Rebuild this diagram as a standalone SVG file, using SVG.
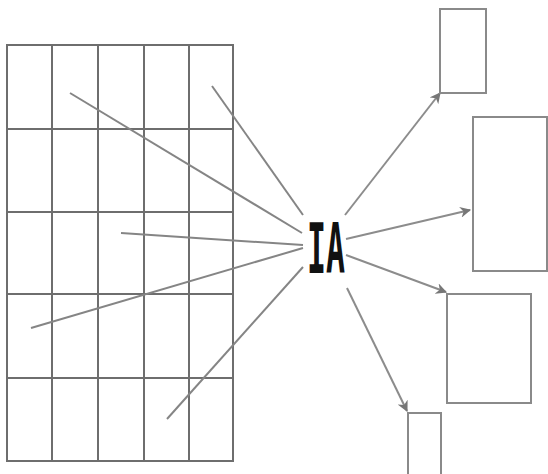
<svg xmlns="http://www.w3.org/2000/svg" width="548" height="474" viewBox="0 0 548 474">
<style>
.grid{fill:none;stroke:#6e6e6e;stroke-width:2}
.box{fill:#fff;stroke:#8a8a8a;stroke-width:2}
.in{stroke:#858585;stroke-width:2;fill:none}
.out{stroke:#8c8c8c;stroke-width:2;fill:none;marker-end:url(#ah)}
.lbl{font-family:"DejaVu Sans Mono","Liberation Mono",monospace;font-size:70px;font-weight:bold;fill:#111}
</style>
<defs>
<marker id="ah" viewBox="0 0 10 10" refX="9" refY="5" markerWidth="5.5" markerHeight="5.5" orient="auto" markerUnits="strokeWidth">
<path d="M0,0 L10,5 L0,10 L3,5 z" fill="#777"/>
</marker>
</defs>
<rect width="548" height="474" fill="#fff"/>
<g id="grid">
<rect class="grid" x="7" y="45" width="226" height="416"/>
<path class="grid" d="M52,45V461M98,45V461M144,45V461M189,45V461M7,129H233M7,212H233M7,294H233M7,378H233"/>
</g>
<g id="connectors">
<line class="in" x1="70" y1="93" x2="302" y2="233"/>
<line class="in" x1="212" y1="86" x2="303" y2="215"/>
<line class="in" x1="121" y1="233" x2="303" y2="245"/>
<line class="in" x1="31" y1="328" x2="303" y2="248"/>
<line class="in" x1="167" y1="419" x2="303" y2="267"/>
<line class="out" x1="345" y1="215" x2="440" y2="93"/>
<line class="out" x1="346" y1="239" x2="470" y2="210"/>
<line class="out" x1="346" y1="255" x2="446" y2="292"/>
<line class="out" x1="347" y1="288" x2="407" y2="411"/>
</g>
<g id="IA"><text class="lbl" x="307" y="273" textLength="38" lengthAdjust="spacingAndGlyphs">IA</text></g>
<g id="boxA"><rect class="box" x="440" y="9" width="46" height="84"/></g>
<g id="boxB"><rect class="box" x="473" y="117" width="74" height="154"/></g>
<g id="boxC"><rect class="box" x="447" y="294" width="84" height="109"/></g>
<g id="boxD"><rect class="box" x="408" y="413" width="33" height="64"/></g>
</svg>
